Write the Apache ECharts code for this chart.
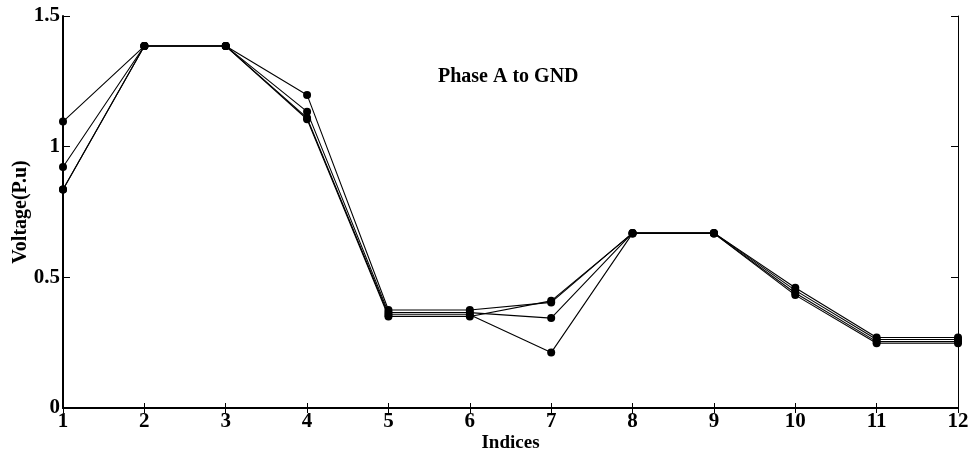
<!DOCTYPE html>
<html>
<head>
<meta charset="utf-8">
<script src="https://cdn.jsdelivr.net/npm/echarts@6/dist/echarts.min.js"></script>
<style>html,body{margin:0;padding:0;background:#fff;}#c{width:968px;height:452px;}</style>
</head>
<body>
<div id="c"></div>
<script>
var indices = [1,2,3,4,5,6,7,8,9,10,11,12];
var series1 = [1.096, 1.385, 1.385, 1.198, 0.375, 0.375, 0.404, 0.670, 0.670, 0.460, 0.270, 0.270];
var series2 = [0.922, 1.385, 1.385, 1.134, 0.365, 0.365, 0.344, 0.670, 0.670, 0.450, 0.262, 0.262];
var series3 = [0.836, 1.385, 1.385, 1.110, 0.357, 0.357, 0.212, 0.668, 0.668, 0.440, 0.254, 0.254];
var series4 = [0.836, 1.385, 1.385, 1.105, 0.350, 0.350, 0.410, 0.668, 0.668, 0.432, 0.248, 0.248];
var yTicks = [0, 0.5, 1, 1.5];
var titleText = 'Phase A to GND';

var font = 'Liberation Serif, Times New Roman, serif';
function mk(vals){
  return {
    type:'line',
    data: indices.map(function(x,i){return [x, vals[i]];}),
    symbol:'circle', symbolSize:8,
    lineStyle:{color:'#000', width:1.1},
    itemStyle:{color:'#000'},
    silent:true, animation:false
  };
}
var chart = echarts.init(document.getElementById('c'));
chart.setOption({
  backgroundColor:'#fff',
  animation:false,
  title:{text:titleText, left:433, top:62,
    textStyle:{fontFamily:font, fontWeight:'bold', fontSize:20, color:'#000'}},
  grid:{left:63, right:10, top:16, bottom:44, containLabel:false, outerBoundsMode:'none'},
  xAxis:[{
    type:'value', min:1, max:12, interval:1, position:'bottom',
    name:'Indices', nameLocation:'middle', nameGap:26, nameMoveOverlap:false,
    nameTextStyle:{fontFamily:font, fontWeight:'bold', fontSize:19, color:'#000'},
    axisLine:{lineStyle:{color:'#000', width:2}},
    axisTick:{inside:true, length:5, lineStyle:{color:'#000'}},
    axisLabel:{fontFamily:font, fontWeight:'bold', fontSize:21, color:'#000', margin:3},
    splitLine:{show:false}
  },{
    type:'value', min:1, max:12, interval:1, position:'top',
    axisLine:{lineStyle:{color:'#000', width:1}},
    axisTick:{inside:true, length:5, lineStyle:{color:'#000'}},
    axisLabel:{show:false}, splitLine:{show:false}
  }],
  yAxis:[{
    type:'value', min:0, max:1.5, interval:0.5, position:'left',
    name:'Voltage(P.u)', nameLocation:'middle', nameGap:32, nameRotate:90, nameMoveOverlap:false,
    nameTextStyle:{fontFamily:font, fontWeight:'bold', fontSize:20, color:'#000'},
    axisLine:{show:true, lineStyle:{color:'#000', width:2}},
    axisTick:{show:true, inside:true, length:7, lineStyle:{color:'#000'}},
    axisLabel:{fontFamily:font, fontWeight:'bold', fontSize:21, color:'#000', margin:3,
      formatter:function(v){ return yTicks.indexOf(v) >= 0 ? String(v) : ''; }},
    splitLine:{show:false}
  },{
    type:'value', min:0, max:1.5, interval:0.5, position:'right',
    axisLine:{show:true, lineStyle:{color:'#000', width:1}},
    axisTick:{show:true, inside:true, length:7, lineStyle:{color:'#000'}},
    axisLabel:{show:false}, splitLine:{show:false}
  }],
  series:[mk(series1), mk(series2), mk(series3), mk(series4)]
});
</script>
</body>
</html>
